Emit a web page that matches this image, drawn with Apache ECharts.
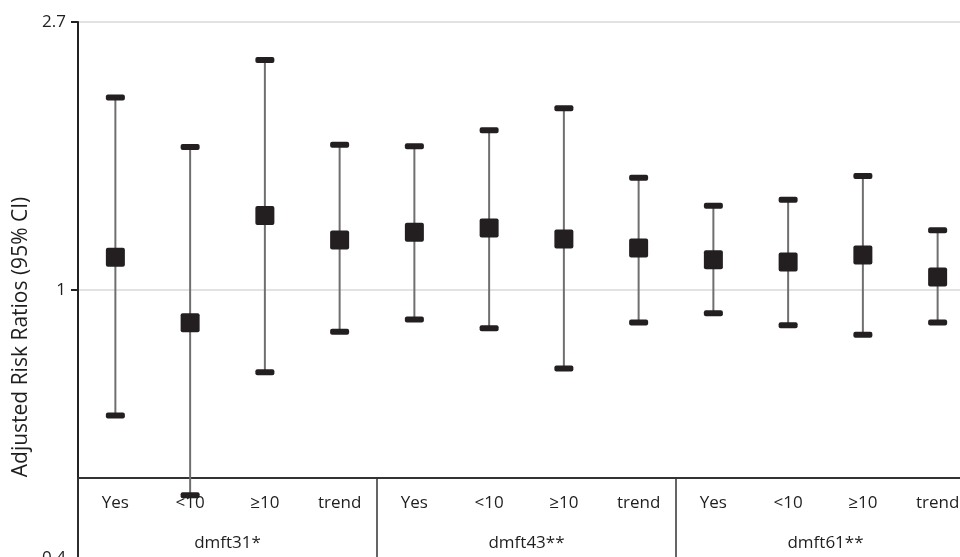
<!DOCTYPE html>
<html>
<head>
<meta charset="utf-8">
<script src="https://cdn.jsdelivr.net/npm/echarts@6/dist/echarts.min.js"></script>
<style>html,body{margin:0;padding:0;background:#fff;}#c{width:960px;height:557px;}</style>
</head>
<body>
<div id="c"></div>
<script>
const categories = ['Yes','<10','≥10','trend','Yes','<10','≥10','trend','Yes','<10','≥10','trend'];
const groups = ['dmft31*','dmft43**','dmft61**'];
const estimate = [1.13, 0.885, 1.32, 1.205, 1.24, 1.26, 1.21, 1.17, 1.12, 1.11, 1.14, 1.05];
const lower    = [0.626, 0.465, 0.736, 0.856, 0.896, 0.867, 0.746, 0.886, 0.917, 0.877, 0.846, 0.886];
const upper    = [2.05, 1.705, 2.36, 1.72, 1.71, 1.815, 1.97, 1.52, 1.37, 1.40, 1.53, 1.25];

const FONT = 'Open Sans';
const dark = '#231f20';
const txt = '#1e1e1e';
const data = categories.map((c, i) => [i, lower[i], estimate[i], upper[i]]);

const chart = echarts.init(document.getElementById('c'));
chart.setOption({
  animation: false,
  backgroundColor: '#fff',
  grid: { left: 78, top: 22, right: -15, bottom: -1, containLabel: false, outerBoundsMode: 'none' },
  xAxis: [
    {
      type: 'category', data: categories, position: 'bottom', offset: -80,
      axisLine: { show: true, lineStyle: { color: '#333', width: 2 } },
      axisTick: { show: false },
      axisLabel: { margin: 17, fontFamily: FONT, fontSize: 17, color: txt },
      splitLine: { show: false }
    },
    {
      type: 'category', data: groups, position: 'bottom', offset: -80,
      axisLine: { show: false },
      axisTick: { show: true, length: 82, lineStyle: { color: '#333', width: 1.5 } },
      axisLabel: { margin: 57, fontFamily: FONT, fontSize: 17, color: txt },
      splitLine: { show: false }
    }
  ],
  yAxis: {
    type: 'log', logBase: Math.E, min: 1 / Math.E, max: Math.E, interval: 1,
    name: 'Adjusted Risk Ratios (95% CI)', nameLocation: 'middle', nameGap: 41,
    nameTextStyle: { fontFamily: FONT, fontSize: 21, color: txt, padding: [0, 94, 0, 0] },
    axisLine: { show: true, lineStyle: { color: '#222', width: 2 } },
    axisTick: { show: true, length: 7, lineStyle: { color: '#222', width: 2 } },
    axisLabel: {
      fontFamily: FONT, fontSize: 17, color: txt, margin: 12,
      formatter: v => Math.abs(v - 1) < 1e-6 ? '1' : v.toFixed(1)
    },
    splitLine: { show: true, lineStyle: { color: '#d9d9d9', width: 1.5 } }
  },
  series: [{
    type: 'custom',
    xAxisIndex: 0,
    encode: { x: 0, y: [1, 2, 3] },
    data: data,
    z: 10,
    renderItem: function (params, api) {
      const i = api.value(0);
      const lo = api.coord([i, api.value(1)]);
      const mid = api.coord([i, api.value(2)]);
      const hi = api.coord([i, api.value(3)]);
      const cw = 19, ch = 6, bs = 19;
      return {
        type: 'group',
        children: [
          { type: 'line', shape: { x1: lo[0], y1: lo[1], x2: hi[0], y2: hi[1] },
            style: { stroke: '#6f6f6f', lineWidth: 2 } },
          { type: 'rect', shape: { x: hi[0] - cw / 2, y: hi[1] - ch / 2, width: cw, height: ch, r: 2 },
            style: { fill: dark } },
          { type: 'rect', shape: { x: lo[0] - cw / 2, y: lo[1] - ch / 2, width: cw, height: ch, r: 2 },
            style: { fill: dark } },
          { type: 'rect', shape: { x: mid[0] - bs / 2, y: mid[1] - bs / 2, width: bs, height: bs, r: 2 },
            style: { fill: dark } }
        ]
      };
    }
  }]
});
</script>
</body>
</html>
